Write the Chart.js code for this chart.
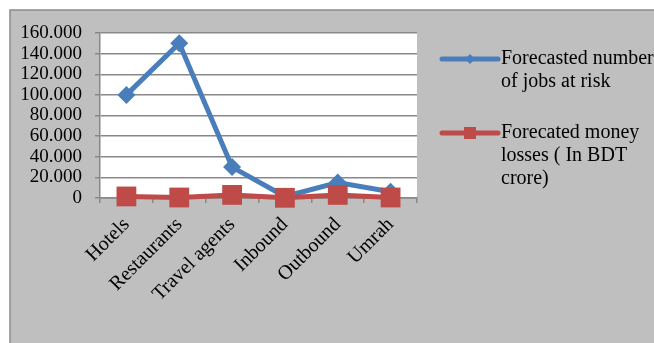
<!DOCTYPE html>
<html>
<head>
<meta charset="utf-8">
<script src="https://cdn.jsdelivr.net/npm/chart.js@4/dist/chart.umd.min.js"></script>
<style>
  html, body { margin: 0; padding: 0; background: #ffffff; overflow: hidden; }
  #wrap { width: 654px; height: 343px; position: relative; }
</style>
</head>
<body>
<div id="wrap"><canvas id="c" width="654" height="343"></canvas></div>
<script>
// Sector categories along the x axis
const categories = ["Hotels", "Restaurants", "Travel agents", "Inbound", "Outbound", "Umrah"];
// Forecasted number of jobs at risk per sector
const jobsAtRisk = [100000, 150000, 30000, 1500, 15000, 6000];
// Forecasted money losses per sector (BDT crore)
const moneyLosses = [1500, 500, 3000, 200, 3000, 500];
// Value axis ticks and their printed labels
const yTickValues = [0, 20000, 40000, 60000, 80000, 100000, 120000, 140000, 160000];
const yTickLabels = ["0", "20.000", "40.000", "60.000", "80.000", "100.000", "120.000", "140.000", "160.000"];
// Series names and how they wrap in the legend
const seriesNames = ["Forecasted number of jobs at risk", "Forecated money losses ( In BDT crore)"];
const legendLines = [["Forecasted number", "of jobs at risk"], ["Forecated money", "losses ( In BDT", "crore)"]];

const BLUE = "#4a7ebb";
const RED = "#be4b48";
const GRID = "#888888";
const FONT = "'Liberation Serif', 'Times New Roman', serif";

const backdrop = {
  id: "backdrop",
  beforeDraw(chart) {
    const ctx = chart.ctx;
    const a = chart.chartArea;
    ctx.save();
    ctx.fillStyle = "#ffffff";
    ctx.fillRect(0, 0, chart.width, chart.height);
    ctx.fillStyle = "#bfbfbf";
    ctx.fillRect(10, 10, chart.width - 10, chart.height - 10);
    ctx.strokeStyle = "#8c8c8c";
    ctx.lineWidth = 1.5;
    ctx.beginPath();
    ctx.moveTo(10, chart.height);
    ctx.lineTo(10, 10);
    ctx.lineTo(chart.width, 10);
    ctx.stroke();
    ctx.fillStyle = "#ffffff";
    ctx.fillRect(a.left, a.top, a.right - a.left, a.bottom - a.top);
    ctx.restore();
  }
};

const sideLegend = {
  id: "sideLegend",
  afterDraw(chart) {
    const ctx = chart.ctx;
    const centers = [59, 133];
    const x0 = 442, x1 = 498, tx = 501, lh = 23;
    ctx.save();
    chart.data.datasets.forEach((ds, i) => {
      const y = centers[i];
      ctx.strokeStyle = ds.borderColor;
      ctx.lineWidth = 5;
      ctx.lineCap = "round";
      ctx.beginPath();
      ctx.moveTo(x0, y);
      ctx.lineTo(x1, y);
      ctx.stroke();
      ctx.fillStyle = ds.borderColor;
      const mx = (x0 + x1) / 2;
      if (ds.pointStyle === "rectRot") {
        ctx.beginPath();
        ctx.moveTo(mx, y - 5);
        ctx.lineTo(mx + 5, y);
        ctx.lineTo(mx, y + 5);
        ctx.lineTo(mx - 5, y);
        ctx.closePath();
        ctx.fill();
      } else {
        ctx.fillRect(mx - 6, y - 6, 12, 12);
      }
      ctx.fillStyle = "#000000";
      ctx.font = "20px " + FONT;
      ctx.textBaseline = "middle";
      ctx.textAlign = "left";
      legendLines[i].forEach((line, k) => ctx.fillText(line, tx, y + k * lh));
    });
    ctx.restore();
  }
};

new Chart(document.getElementById("c"), {
  type: "line",
  data: {
    labels: categories,
    datasets: [
      {
        label: seriesNames[0],
        data: jobsAtRisk,
        borderColor: BLUE,
        backgroundColor: BLUE,
        borderWidth: 5,
        pointStyle: "rectRot",
        pointRadius: 9,
        pointHoverRadius: 9,
        pointBorderWidth: 0,
        tension: 0,
        clip: false,
        order: 1
      },
      {
        label: seriesNames[1],
        data: moneyLosses,
        borderColor: RED,
        backgroundColor: RED,
        borderWidth: 5,
        pointStyle: "rect",
        pointRadius: 14,
        pointHoverRadius: 14,
        pointBorderWidth: 0,
        tension: 0,
        clip: false,
        order: 0
      }
    ]
  },
  options: {
    responsive: false,
    animation: false,
    events: [],
    layout: { padding: { left: 0, top: 33, right: 237, bottom: 0 } },
    plugins: { legend: { display: false }, tooltip: { enabled: false } },
    scales: {
      x: {
        offset: true,
        afterFit(scale) { scale.height = 145; },
        grid: {
          offset: true,
          drawOnChartArea: false,
          drawTicks: true,
          tickLength: 5,
          color: GRID,
          lineWidth: 1.5
        },
        border: { color: GRID, width: 1.5 },
        ticks: {
          autoSkip: false,
          minRotation: 45,
          maxRotation: 45,
          padding: 10,
          color: "#000000",
          font: { family: FONT, size: 20 }
        }
      },
      y: {
        min: 0,
        max: 160000,
        afterFit(scale) { scale.width = 100; },
        afterBuildTicks(scale) { scale.ticks = yTickValues.map(v => ({ value: v })); },
        grid: { color: GRID, lineWidth: 1.5, tickLength: 5 },
        border: { color: GRID, width: 1.5 },
        ticks: {
          autoSkip: false,
          padding: 13,
          color: "#000000",
          font: { family: FONT, size: 19 },
          callback: (v) => yTickLabels[yTickValues.indexOf(v)]
        }
      }
    }
  },
  plugins: [backdrop, sideLegend]
});
</script>
</body>
</html>
